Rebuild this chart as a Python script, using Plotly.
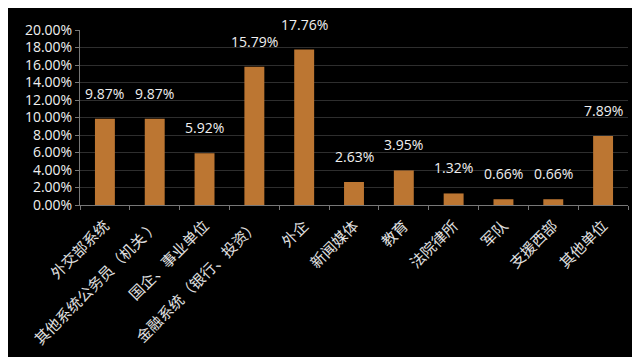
import plotly.graph_objects as go

categories = ["外交部系统", "其他系统公务员（机关 ）", "国企、事业单位", "金融系统（银行、投资）",
              "外企", "新闻媒体", "教育", "法院律所", "军队", "支援西部", "其他单位"]
values = [9.87, 9.87, 5.92, 15.79, 17.76, 2.63, 3.95, 1.32, 0.66, 0.66, 7.89]
labels = [f"{v:.2f}%" for v in values]
ytick_vals = [0, 2, 4, 6, 8, 10, 12, 14, 16, 18, 20]
ytick_text = [f"{v:.2f}%" for v in ytick_vals]

fig = go.Figure(go.Bar(
    x=categories, y=values,
    marker=dict(color="#BC7632", line=dict(width=0)),
    width=0.4, cliponaxis=False,
))
for c, v, t in zip(categories, values, labels):
    fig.add_annotation(x=c, y=v, text=t, showarrow=False, yanchor="bottom", yshift=14,
                       font=dict(color="#f0f0f0", size=14, family="Open Sans"))

fig.update_layout(
    width=640, height=357,
    margin=dict(l=72, r=20, t=18, b=160),
    paper_bgcolor="#000000", plot_bgcolor="#000000",
    showlegend=False,
)
fig.update_xaxes(
    tickangle=-45, tickfont=dict(color="#e0e0e0", size=15, family="Noto Sans CJK SC"),
    showline=True, linecolor="#777777", linewidth=1,
    ticks="outside", ticklen=4, tickcolor="#777777", tickson="boundaries",
    showgrid=False, ticklabelstandoff=5,
)
fig.update_yaxes(
    range=[0, 20], tickvals=ytick_vals, ticktext=ytick_text,
    tickfont=dict(color="#f0f0f0", size=14, family="Open Sans"),
    showline=True, linecolor="#777777", linewidth=1,
    ticks="outside", ticklen=4, tickcolor="#777777",
    showgrid=True, gridcolor="#2e2e2e", gridwidth=1, zeroline=False,
)
fig.add_shape(type="rect", xref="paper", yref="paper", x0=-0.3, x1=1.031, y0=-0.883, y1=1.3,
              line=dict(color="#888888", width=2), layer="below")
fig.write_html("out.html")
